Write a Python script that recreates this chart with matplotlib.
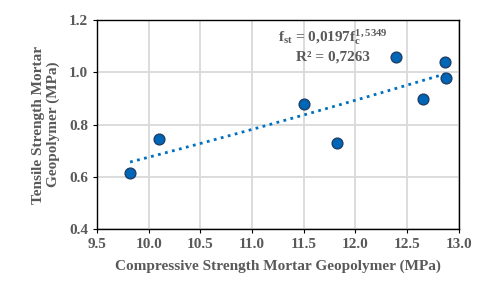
import numpy as np
from matplotlib import pyplot as plt

plt.rcParams['font.family'] = ['Liberation Serif', 'DejaVu Serif']
plt.rcParams['font.weight'] = 'bold'
plt.rcParams['mathtext.default'] = 'regular'

# data
fc = [9.82, 10.10, 11.50, 11.82, 12.39, 12.65, 12.87, 12.88]
fst = [0.616, 0.745, 0.880, 0.730, 1.058, 0.897, 1.038, 0.980]

# power trendline f_st = a * f_c ** b
a, b = 0.0197, 1.5349
xfit = np.linspace(min(fc), max(fc), 50)
yfit = a * xfit ** b

gray = "#595959"

fig = plt.figure(figsize=(4.8, 2.9), dpi=100)
ax = fig.add_axes([0.202, 0.21, 0.754, 0.721])

ax.grid(True, color="#d9d9d9", lw=1.3, zorder=0)
ax.plot(xfit, yfit, ls=(0, (1, 1.6)), lw=2.0, c="#0070C0", zorder=2)
ax.scatter(fc, fst, s=60, c="#0066B8", edgecolors="#1F3F66", linewidths=1.0, zorder=3)

ax.set_xlim(9.5, 13.0)
ax.set_ylim(0.4, 1.2)
ax.set_xticks(np.arange(9.5, 13.01, 0.5))
ax.set_yticks(np.arange(0.4, 1.21, 0.2))
ax.set_xticklabels(["%.1f" % v for v in np.arange(9.5, 13.01, 0.5)])
ax.set_yticklabels(["%.1f" % v for v in np.arange(0.4, 1.21, 0.2)])
ax.tick_params(axis="both", labelsize=11, labelcolor=gray, length=3, color="black")
for s in ax.spines.values():
    s.set_color("black")
    s.set_linewidth(1.0)

ax.set_xlabel("Compressive Strength Mortar Geopolymer (MPa)", fontsize=11,
              color=gray, fontweight="bold", labelpad=6)
ax.set_ylabel("Tensile Strength Mortar\nGeopolymer (MPa)", fontsize=11,
              color=gray, fontweight="bold", labelpad=6)

ax.text(11.78, 1.133, r"f$_{st}$ = 0,0197f$_{c}^{1,5349}$", fontsize=11,
        color=gray, fontweight="bold", ha="center", va="center")
ax.text(11.78, 1.058, r"R² = 0,7263", fontsize=11,
        color=gray, fontweight="bold", ha="center", va="center")

fig.savefig("out.png", dpi=100)
